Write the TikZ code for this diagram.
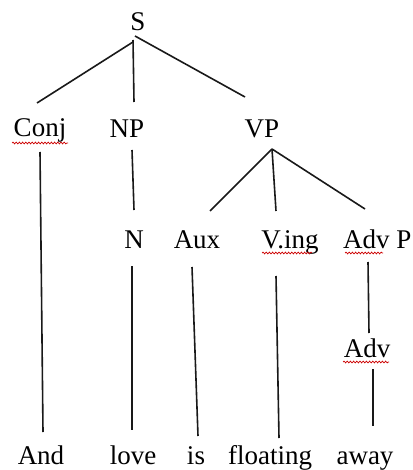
\documentclass[tikz,border=0pt]{standalone}
\usepackage{fontspec}
\setmainfont{Liberation Serif}
\usetikzlibrary{decorations.pathmorphing}
\begin{document}
\begin{tikzpicture}[x=1pt,y=-1pt,
  lbl/.style={anchor=base, inner sep=0pt, font=\fontsize{27}{30}\selectfont},
  lblw/.style={anchor=base west, inner sep=0pt, font=\fontsize{27}{30}\selectfont},
  edge/.style={line width=1.6pt, draw=black!90},
  squig/.style={draw=red!80!black, line width=0.7pt, decorate,
    decoration={snake, amplitude=0.9pt, segment length=3.2pt}}]
\useasboundingbox (0,0) rectangle (412,470);

% labels
\node[lbl] (S) at (138,30.7) {S};
\node[lbl] (Conj) at (40,137) {Conj};
\node[lbl] (NP) at (127,138) {NP};
\node[lbl] (VP) at (262,138) {VP};
\node[lbl] (N) at (134,248) {N};
\node[lbl] (Aux) at (197,248) {Aux};
\node[lbl] (Ving) at (290,248) {V.ing};
\node[lblw] (AdvP) at (343,248) {Adv P};
\node[lbl] (Adv) at (367,357) {Adv};
\node[lbl] (And) at (41,464) {And};
\node[lbl] (love) at (133,464) {love};
\node[lbl] (is) at (196,464) {is};
\node[lbl] (floating) at (270,464) {floating};
\node[lbl] (away) at (365,464) {away};

% connector ends
\coordinate (S-l) at (133,42);
\coordinate (S-m) at (133,40);
\coordinate (S-r) at (135,36);
\coordinate (Conj-t) at (37,103);
\coordinate (NP-t) at (134,102);
\coordinate (VP-t) at (245,97);
\coordinate (VP-b) at (272,149);
\coordinate (Aux-t) at (210,211);
\coordinate (Ving-t) at (276,211);
\coordinate (AdvP-t) at (365,209);
\coordinate (NP-b) at (132,150);
\coordinate (N-t) at (134,210);
\coordinate (Conj-b) at (40,152);
\coordinate (And-t) at (43,432);
\coordinate (N-b) at (132,266);
\coordinate (love-t) at (132,430);
\coordinate (Aux-b) at (192,267);
\coordinate (is-t) at (198,436);
\coordinate (Ving-b) at (276,276);
\coordinate (floating-t) at (279,438);
\coordinate (AdvP-b) at (368,262);
\coordinate (Adv-t) at (369,333);
\coordinate (Adv-b) at (373,369);
\coordinate (away-t) at (373,426);

% connectors
\draw[edge] (S-l) -- (Conj-t);
\draw[edge] (S-m) -- (NP-t);
\draw[edge] (S-r) -- (VP-t);
\draw[edge] (VP-b) -- (Aux-t);
\draw[edge] (VP-b) -- (Ving-t);
\draw[edge] (VP-b) -- (AdvP-t);
\draw[edge] (NP-b) -- (N-t);
\draw[edge] (Conj-b) -- (And-t);
\draw[edge] (N-b) -- (love-t);
\draw[edge] (Aux-b) -- (is-t);
\draw[edge] (Ving-b) -- (floating-t);
\draw[edge] (AdvP-b) -- (Adv-t);
\draw[edge] (Adv-b) -- (away-t);

% spell-check squiggles
\draw[squig] (12,143) -- (68,143);
\draw[squig] (262,253) -- (312,253);
\draw[squig] (345,253) -- (383,253);
\draw[squig] (343,362) -- (389,362);
\end{tikzpicture}
\end{document}
